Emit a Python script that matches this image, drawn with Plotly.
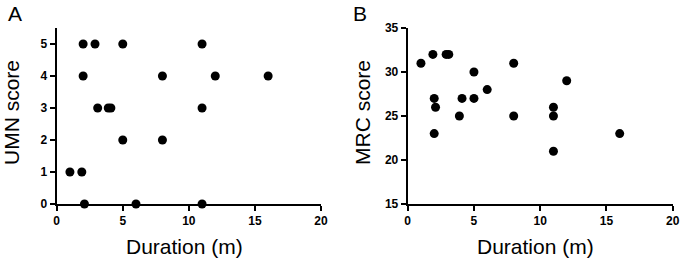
import plotly.graph_objects as go

# Panel A data
umn_duration = [2, 2.9, 5, 11, 2, 8, 12, 16, 3.1, 3.9, 4.1, 11, 5, 8, 1, 1.9, 2.1, 6, 11]
umn_score = [5, 5, 5, 5, 4, 4, 4, 4, 3, 3, 3, 3, 2, 2, 1, 1, 0, 0, 0]

# Panel B data
mrc_duration = [1, 1.9, 2.9, 3.1, 8, 5, 12, 6, 2, 4.1, 5, 2.1, 11, 3.9, 8, 11, 2, 16, 11]
mrc_score = [31, 32, 32, 32, 31, 30, 29, 28, 27, 27, 27, 26, 26, 25, 25, 25, 23, 23, 21]

x_ticks = [0, 5, 10, 15, 20]
umn_ticks = [0, 1, 2, 3, 4, 5]
mrc_ticks = [15, 20, 25, 30, 35]

fig = go.Figure()
marker = dict(color="black", size=9)
fig.add_trace(go.Scatter(x=umn_duration, y=umn_score, mode="markers", marker=marker,
                         xaxis="x", yaxis="y", cliponaxis=False, showlegend=False))
fig.add_trace(go.Scatter(x=mrc_duration, y=mrc_score, mode="markers", marker=marker,
                         xaxis="x2", yaxis="y2", cliponaxis=False, showlegend=False))

W, H = 681, 260
ydom = [1 - 204 / H, 1 - 28 / H]
axis_common = dict(showgrid=False, zeroline=False, showline=True, linecolor="black",
                   linewidth=2, ticks="outside", ticklen=5, tickwidth=2, tickcolor="black",
                   ticklabeloverflow="allow", automargin=False,
                   tickfont=dict(family="Liberation Sans", size=12, color="black", weight="bold"))

fig.update_layout(
    width=W, height=H, margin=dict(l=0, r=0, t=0, b=0, pad=0, autoexpand=False),
    showlegend=False,
    paper_bgcolor="white", plot_bgcolor="white",
    xaxis=dict(domain=[56.7 / W, 321 / W], range=[0, 20], tickvals=x_ticks, anchor="y", **axis_common),
    yaxis=dict(domain=ydom, range=[0, 5.5], tickvals=umn_ticks, anchor="x", **axis_common),
    xaxis2=dict(domain=[407.7 / W, 672.7 / W], range=[0, 20], tickvals=x_ticks, anchor="y2", **axis_common),
    yaxis2=dict(domain=ydom, range=[15, 35], tickvals=mrc_ticks, anchor="x2", **axis_common),
)

title_font = dict(family="Liberation Sans", size=21, color="black")
anns = [
    dict(text="Duration (m)", x=184 / W, y=1 - 246 / H),
    dict(text="Duration (m)", x=535 / W, y=1 - 246 / H),
    dict(text="UMN score", x=11 / W, y=1 - 113 / H, textangle=-90),
    dict(text="MRC score", x=362 / W, y=1 - 113 / H, textangle=-90),
]
for a in anns:
    fig.add_annotation(xref="paper", yref="paper", showarrow=False, xanchor="center",
                       yanchor="middle", font=title_font, **a)
for lbl, x in [("A", 15), ("B", 360)]:
    fig.add_annotation(text=lbl, xref="paper", yref="paper", x=x / W, y=1 - 13 / H,
                       showarrow=False, xanchor="center", yanchor="middle",
                       font=dict(family="Liberation Sans", size=21, color="black"))

fig.write_html(
    "out.html",
    config={"displayModeBar": False},
    post_script="document.body.style.margin='0';document.body.style.padding='0';"
                "document.body.style.overflow='hidden';",
)
